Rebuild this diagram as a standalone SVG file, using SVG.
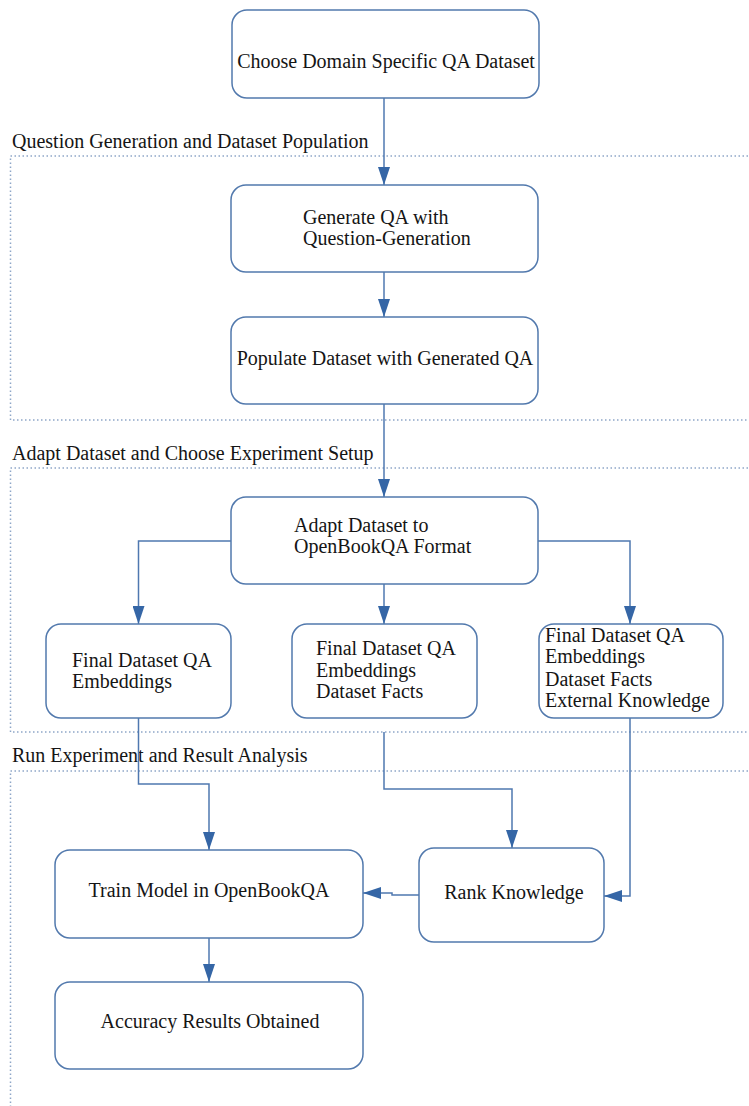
<svg xmlns="http://www.w3.org/2000/svg" width="749" height="1106" viewBox="0 0 749 1106">
<defs>
<marker id="arr" markerUnits="userSpaceOnUse" markerWidth="18" markerHeight="12" refX="18" refY="6" orient="auto">
<path d="M0,0 L18,6 L0,12 z" fill="#3566a6"/>
</marker>
<style>
.sec{fill:none;stroke:#8ea6c8;stroke-width:1.5;stroke-dasharray:1.5 2.5}
.box{fill:#fff;stroke:#5279ad;stroke-width:1.5}
.t{font-family:"Liberation Serif","Times New Roman",serif;font-size:20px;fill:#151515}
.c{text-anchor:middle}
.ln{fill:none;stroke:#4f78b0;stroke-width:1.5}
</style>
</defs>
<rect width="749" height="1106" fill="#fff"/>
<g id="sections">
<rect class="sec" x="10.5" y="156" width="800" height="264"/>
<text class="t" x="12" y="148">Question Generation and Dataset Population</text>
<rect class="sec" x="10.5" y="468" width="800" height="264"/>
<text class="t" x="12" y="460">Adapt Dataset and Choose Experiment Setup</text>
<rect class="sec" x="10.5" y="771" width="800" height="400"/>
<text class="t" x="12" y="762">Run Experiment and Result Analysis</text>
</g>
<g id="connectors">
<path class="ln" d="M384,98 V185" marker-end="url(#arr)"/>
<path class="ln" d="M384,272 V317" marker-end="url(#arr)"/>
<path class="ln" d="M384,404 V497" marker-end="url(#arr)"/>
<path class="ln" d="M231,541 H138.5 V624" marker-end="url(#arr)"/>
<path class="ln" d="M384,584 V624" marker-end="url(#arr)"/>
<path class="ln" d="M538,541 H630 V624" marker-end="url(#arr)"/>
<path class="ln" d="M138.5,718 V784 H209 V850" marker-end="url(#arr)"/>
<path class="ln" d="M384,732 V789 H512 V848" marker-end="url(#arr)"/>
<path class="ln" d="M630,718 V896 H604" marker-end="url(#arr)"/>
<path class="ln" d="M419,895 H392 V893 H363" marker-end="url(#arr)"/>
<path class="ln" d="M209,938 V982" marker-end="url(#arr)"/>
</g>
<g id="n1">
<rect class="box" x="232" y="10" width="307" height="88" rx="15"/>
<text class="t c" x="386" y="68">Choose Domain Specific QA Dataset</text>
</g>
<g id="n2">
<rect class="box" x="231" y="185" width="307" height="87" rx="15"/>
<text class="t" x="303" y="224">Generate QA with</text>
<text class="t" x="303" y="245">Question-Generation</text>
</g>
<g id="n3">
<rect class="box" x="231" y="317" width="307" height="87" rx="15"/>
<text class="t c" x="385" y="365">Populate Dataset with Generated QA</text>
</g>
<g id="n4">
<rect class="box" x="231" y="497" width="307" height="87" rx="15"/>
<text class="t" x="294" y="532">Adapt Dataset to</text>
<text class="t" x="294" y="553">OpenBookQA Format</text>
</g>
<g id="n5">
<rect class="box" x="46" y="624" width="185" height="94" rx="15"/>
<text class="t" x="72" y="667">Final Dataset QA</text>
<text class="t" x="72" y="688">Embeddings</text>
</g>
<g id="n6">
<rect class="box" x="292" y="624" width="185" height="94" rx="15"/>
<text class="t" x="316" y="655">Final Dataset QA</text>
<text class="t" x="316" y="677">Embeddings</text>
<text class="t" x="316" y="698">Dataset Facts</text>
</g>
<g id="n7">
<rect class="box" x="539" y="624" width="184" height="94" rx="15"/>
<text class="t" x="545" y="642">Final Dataset QA</text>
<text class="t" x="545" y="663">Embeddings</text>
<text class="t" x="545" y="686">Dataset Facts</text>
<text class="t" x="545" y="707">External Knowledge</text>
</g>
<g id="n8">
<rect class="box" x="55" y="850" width="308" height="88" rx="15"/>
<text class="t c" x="209" y="897">Train Model in OpenBookQA</text>
</g>
<g id="n9">
<rect class="box" x="419" y="848" width="185" height="94" rx="15"/>
<text class="t c" x="514" y="899">Rank Knowledge</text>
</g>
<g id="n10">
<rect class="box" x="55" y="982" width="308" height="87" rx="15"/>
<text class="t c" x="210" y="1028">Accuracy Results Obtained</text>
</g>
</svg>
